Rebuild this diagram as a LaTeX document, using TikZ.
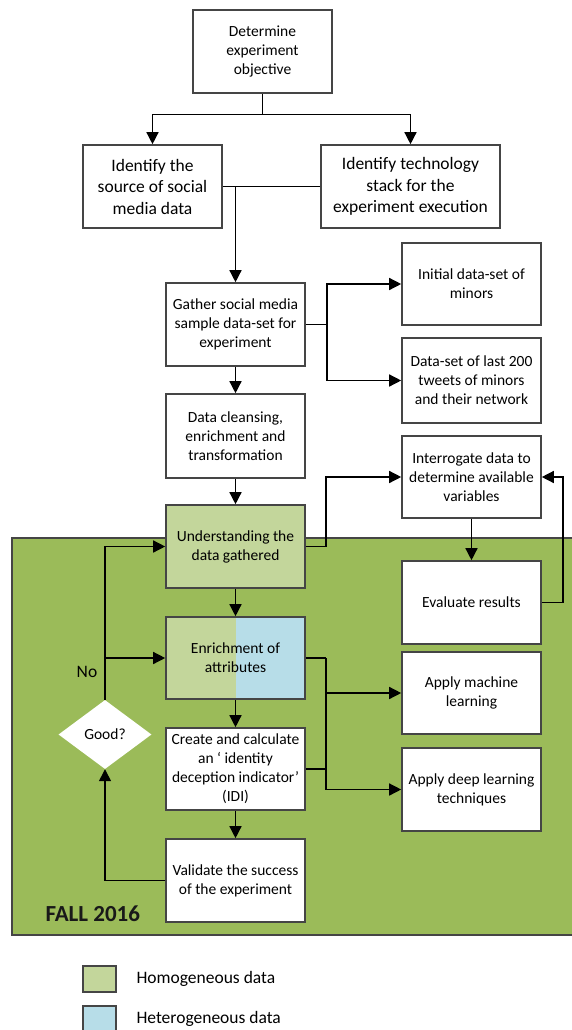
\documentclass[tikz,border=0pt]{standalone}
\usepackage{fontspec}
\setmainfont{Carlito}
\usetikzlibrary{arrows.meta,shapes.geometric,calc}

\definecolor{olive}{HTML}{9BBB59}
\definecolor{lightolive}{HTML}{C3D69B}
\definecolor{lightaqua}{HTML}{B7DDE8}
\definecolor{edgegray}{HTML}{454545}

\newcommand{\txt}{\fontsize{15.5}{19}\selectfont}
\newcommand{\bigtxt}{\fontsize{17.5}{21.5}\selectfont}

\begin{document}
\begin{tikzpicture}[x=1pt,y=-1pt,
  box/.style={draw=edgegray, line width=1.6pt, fill=white, align=center,
    inner sep=0pt, minimum width=139pt, minimum height=83pt, font=\txt},
  conn/.style={line width=1.4pt, black},
  arr/.style={conn, -{Triangle[length=12pt,width=12pt]}},
  legsq/.style={draw=edgegray, line width=1.6pt, minimum width=33pt,
    minimum height=26pt, inner sep=0pt},
  ]
\useasboundingbox (0,0) rectangle (571,1030);

% shaded phase region
\draw[draw=edgegray, line width=1.6pt, fill=olive] (12,538) rectangle (580,935);
\node[anchor=west, font=\fontsize{23}{26}\selectfont\bfseries, text=black!90] (fall) at (42,914) {FALL 2016};

% process boxes
\node[box] (obj) at (262.5,51.5) {Determine\\experiment\\objective};
\node[box, font=\bigtxt] (src) at (152.5,186.5) {Identify the\\source of social\\media data};
\node[box, font=\bigtxt, minimum width=179pt] (tech) at (410.5,186.5) {Identify technology\\stack for the\\experiment execution};
\node[box] (gather) at (235.5,324.5) {Gather social media\\sample data-set for\\experiment};
\node[box, minimum height=82pt] (init) at (471.5,284) {Initial data-set of\\minors};
\node[box, minimum height=85pt] (last) at (471.5,380.5) {Data-set of last 200\\tweets of minors\\and their network};
\node[box, minimum height=84pt] (clean) at (235.5,436) {Data cleansing,\\enrichment and\\transformation};
\node[box, minimum height=82pt] (interr) at (471.5,477) {Interrogate data to\\determine available\\variables};
\node[box, fill=lightolive] (under) at (235.5,546.5) {Understanding the\\data gathered};
\node[box] (eval) at (471.5,602.5) {Evaluate results};
\node[box, fill=none, minimum height=82pt, path picture={
    \fill[lightolive] (path picture bounding box.north west) rectangle (path picture bounding box.south);
    \fill[lightaqua] (path picture bounding box.north) rectangle (path picture bounding box.south east);
  }] (enrich) at (235.5,658) {Enrichment of\\attributes};
\node[box, minimum height=82pt] (ml) at (471.5,693) {Apply machine\\learning};
\node[box, minimum height=82pt] (create) at (235.5,769) {Create and calculate\\an ‘ identity\\deception indicator’\\(IDI)};
\node[box] (deep) at (471.5,789.5) {Apply deep learning\\techniques};
\node[box] (valid) at (235.5,880.5) {Validate the success\\of the experiment};
\node[diamond, fill=white, inner sep=0pt, aspect=1.35, minimum width=93pt,
  minimum height=69pt, font=\txt] (good) at (105,734.5) {Good?};
\node[font=\fontsize{17.5}{20}\selectfont] (no) at (87,672) {No};

% connectors
\draw[conn] (obj.south) -- ++(0,21) coordinate (j1);
\draw[arr] (j1) -| (src.north);
\draw[arr] (j1) -| (tech.north);
\draw[conn] (src.east) -- (tech.west);
\draw[arr] (src.east -| gather.north) -- (gather.north);
\draw[conn] (gather.east) -- ++(21,0) coordinate (j2);
\draw[arr] (j2) |- (init.west);
\draw[arr] (j2) |- (last.west);
\draw[arr] (gather.south) -- (clean.north);
\draw[arr] (clean.south) -- (under.north);
\draw[arr] (under.east) -- ++(20,0) |- (interr.west);
\draw[arr] (interr.south) -- (eval.north);
\draw[arr] (eval.east) -- ++(21,0) |- (interr.east);
\draw[arr] (under.south) -- (enrich.north);
\draw[conn] (enrich.east) -- ++(20,0) coordinate (j3);
\draw[arr] (j3) |- (ml.west);
\draw[arr] (j3) |- (deep.west);
\draw[conn] (create.east) -- (create.east -| j3);
\draw[arr] (enrich.south) -- (create.north);
\draw[arr] (create.south) -- (valid.north);
\draw[arr] (valid.west) -| (good.south);
\draw[arr] (good.north) |- (under.west);
\draw[arr] (good.north |- enrich.west) -- (enrich.west);

% legend
\node[legsq, fill=lightolive] (lg1) at (99.5,979) {};
\node[anchor=west, font=\fontsize{17.5}{20}\selectfont] (lt1) at (133,979) {Homogeneous data};
\node[legsq, fill=lightaqua] (lg2) at (99.5,1019) {};
\node[anchor=west, font=\fontsize{17.5}{20}\selectfont] (lt2) at (133,1019) {Heterogeneous data};
\end{tikzpicture}
\end{document}
